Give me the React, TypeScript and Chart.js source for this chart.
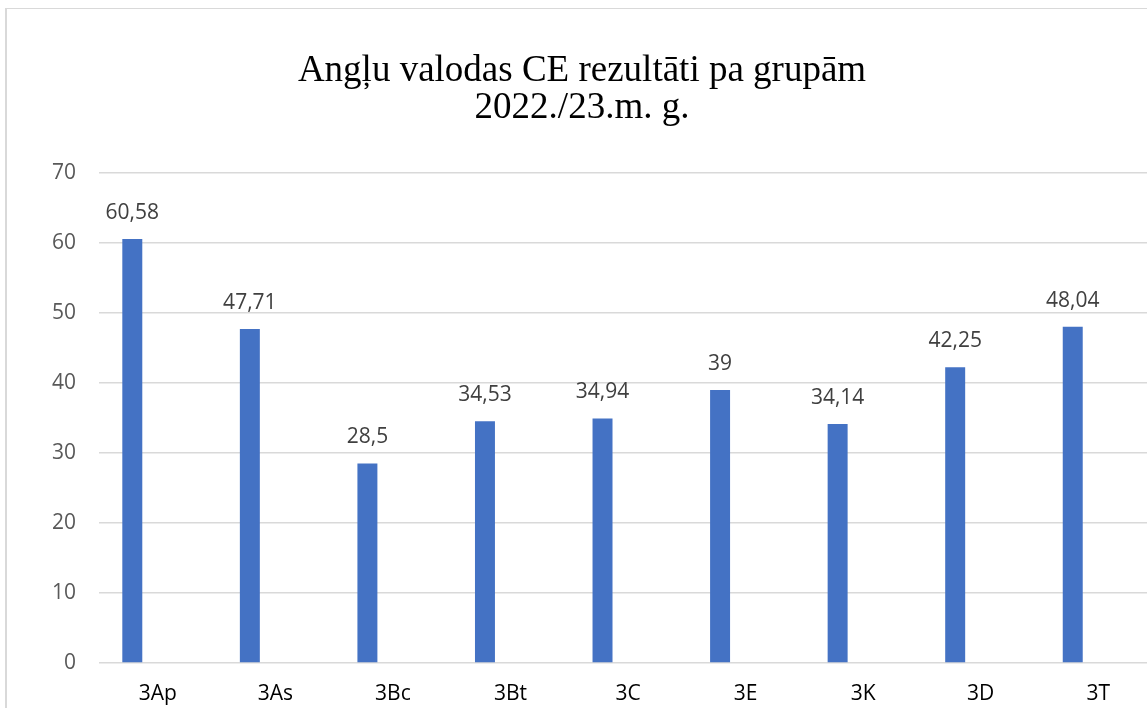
import React, { useEffect, useRef } from "react";
import { Chart, registerables } from "chart.js";

Chart.register(...registerables);

const titleLines = ["Angļu valodas CE rezultāti pa grupām", "2022./23.m. g."];
const categories = ["3Ap", "3As", "3Bc", "3Bt", "3C", "3E", "3K", "3D", "3T"];
const results = [60.58, 47.71, 28.5, 34.53, 34.94, 39, 34.14, 42.25, 48.04];
const emptySeries = [null, null, null, null, null, null, null, null, null];
const yMin = 0;
const yMax = 70;
const yStep = 10;

const BAR_COLOR = "#4472C4";
const SANS = "'Open Sans', 'Noto Sans', sans-serif";

const valueLabels = {
  id: "valueLabels",
  afterDatasetsDraw(chart: any) {
    const ctx = chart.ctx;
    const meta = chart.getDatasetMeta(0);
    ctx.save();
    ctx.font = `21px ${SANS}`;
    ctx.fillStyle = "#404040";
    ctx.textAlign = "center";
    ctx.textBaseline = "middle";
    meta.data.forEach((bar: any, i: number) => {
      const v = results[i];
      if (v == null) return;
      ctx.fillText(String(v).replace(".", ","), bar.x, bar.y - 26);
    });
    ctx.restore();
  },
};

export default function App() {
  const canvasRef = useRef<HTMLCanvasElement | null>(null);

  useEffect(() => {
    const canvas = canvasRef.current;
    if (!canvas) return;
    const chart = new Chart(canvas, {
      type: "bar",
      data: {
        labels: categories,
        datasets: [
          {
            label: "Rezultāts",
            data: results,
            backgroundColor: BAR_COLOR,
            borderWidth: 0,
            categoryPercentage: 0.867,
            barPercentage: 0.392,
          },
          {
            label: "",
            data: emptySeries as any,
            backgroundColor: BAR_COLOR,
            borderWidth: 0,
            categoryPercentage: 0.867,
            barPercentage: 0.392,
          },
        ],
      },
      options: {
        responsive: false,
        animation: false,
        layout: { padding: { top: 0, left: 0, right: 20, bottom: 6 } },
        plugins: {
          legend: { display: false },
          tooltip: { enabled: false },
          title: {
            display: true,
            text: titleLines,
            color: "#000000",
            font: { family: "'Liberation Serif', 'Times New Roman', serif", size: 37, weight: "normal", lineHeight: 1.0 },
            padding: { top: 43.5, bottom: 46.5 },
          },
        },
        scales: {
          x: {
            grid: { display: false, drawTicks: false },
            border: { display: false },
            ticks: {
              color: "#000000",
              font: { family: SANS, size: 21 },
              padding: 18,
              maxRotation: 0,
            },
            afterFit(scale: any) {
              scale.height = 50;
            },
          },
          y: {
            min: yMin,
            max: yMax,
            grid: { color: "#d9d9d9", lineWidth: 1.5, drawTicks: false },
            border: { display: false },
            ticks: {
              stepSize: yStep,
              color: "#595959",
              font: { family: SANS, size: 21 },
              padding: 23,
            },
            afterFit(scale: any) {
              scale.width = 92;
            },
          },
        },
      },
      plugins: [valueLabels],
    });
    return () => chart.destroy();
  }, []);

  return (
    <div style={{ position: "fixed", left: 0, top: 0, width: "100vw", height: "100vh", overflow: "hidden", background: "#ffffff" }}>
      <div
        style={{
          position: "absolute",
          left: 5,
          top: 8,
          width: 1180,
          height: 720,
          borderLeft: "2px solid #d9d9d9",
          borderTop: "1px solid #d9d9d9",
          background: "#ffffff",
        }}
      >
        <canvas ref={canvasRef} width={1170} height={710} style={{ display: "block", width: 1170, height: 710 }} />
      </div>
    </div>
  );
}
